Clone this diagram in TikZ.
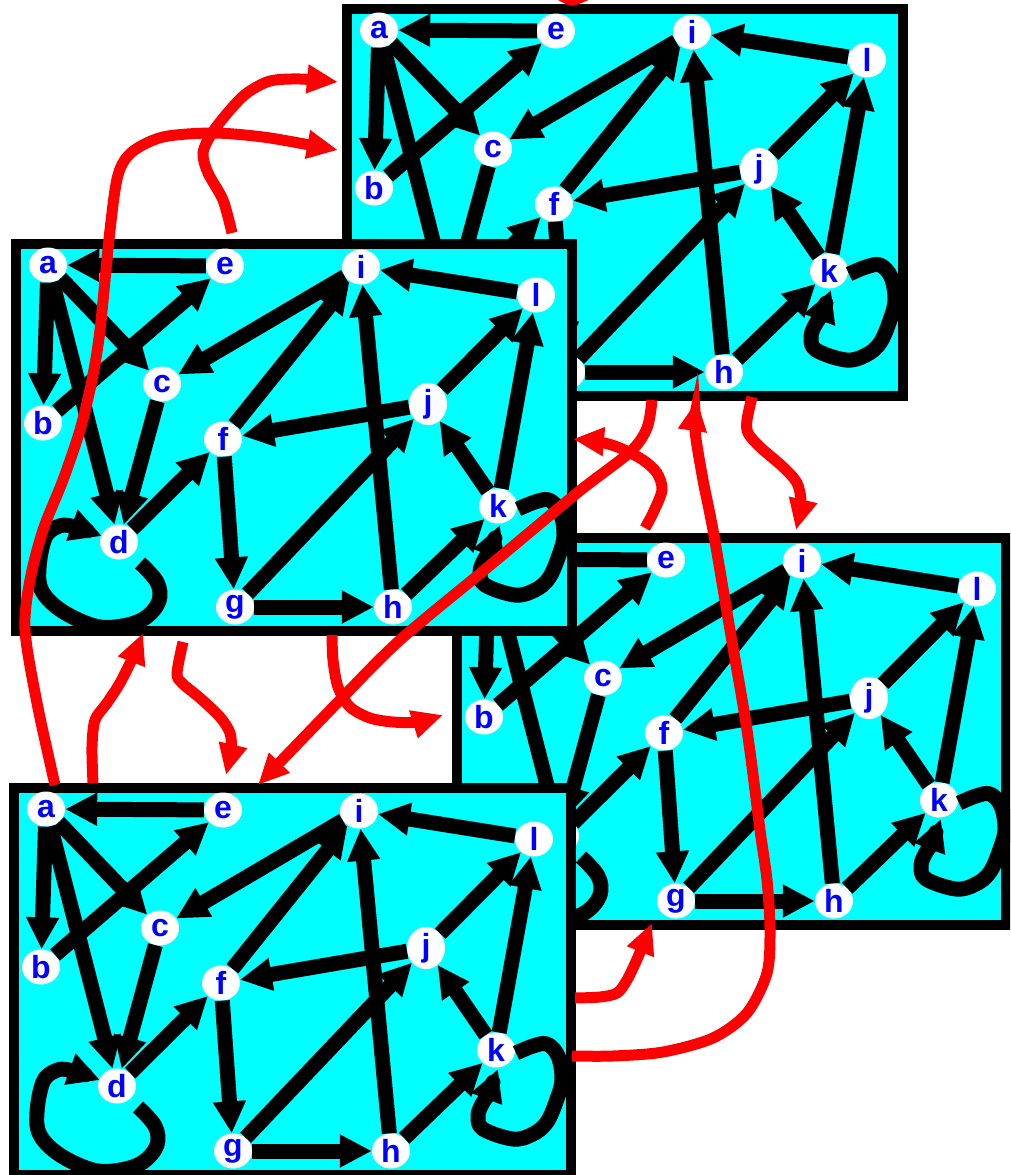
\documentclass[tikz,border=0pt]{standalone}
\usepackage{fontspec}
\setmainfont{Liberation Sans}
\usetikzlibrary{arrows.meta,shapes.geometric}
\definecolor{pcyan}{RGB}{0,255,255}
\definecolor{pblue}{RGB}{0,0,255}
\definecolor{pred}{RGB}{255,0,0}
\tikzset{
 vtx/.style={ellipse, fill=white, minimum width=38pt, minimum height=35pt, inner sep=0pt, text=pblue, font=\fontsize{32}{32}\selectfont\bfseries},
 gedge/.style={line width=15pt, -{Triangle[length=32pt,width=31pt]}},
 gloop/.style={line width=15pt, line join=round, -{Triangle[length=32pt,width=31pt]}},
 panelbox/.style={fill=pcyan, draw=black, line width=10pt},
 redarr/.style={draw=pred, line width=11pt, -{Triangle[length=31pt,width=27pt]}},
}
\newcommand{\graphpanel}[4]{%
\begin{scope}[shift={(#2,#3)}, name prefix=#1-]
 \path[panelbox] (0,0) rectangle (#4,387);
 \node[vtx] (a) at (32,21) {a};
 \node[vtx] (b) at (27,179) {b};
 \node[vtx] (c) at (146,140) {c};
 \node[vtx] (d) at (103,298) {d};
 \node[vtx] (e) at (209,22) {e};
 \node[vtx] (f) at (207,195) {f};
 \node[vtx] (g) at (219,363) {g};
 \node[vtx] (h) at (377,363) {h};
 \node[vtx] (i) at (345,23) {i};
 \node[vtx] (j) at (412,160) {j};
 \node[vtx] (k) at (482,262) {k};
 \node[vtx] (l) at (520,51) {l};
 \draw[gedge] (e) -- (a);
 \draw[gedge] (a) -- (b);
 \draw[gedge] (a) -- (c);
 \draw[gedge] (a) -- (d);
 \draw[gedge] (b) -- (e);
 \draw[gedge] (c) -- (d);
 \draw[gedge] (i) -- (c);
 \draw[gedge] (f) -- (i);
 \draw[gedge] (d) -- (f);
 \draw[gedge] (f) -- (g);
 \draw[gedge] (g) -- (h);
 \draw[gedge] (g) -- (j);
 \draw[gedge] (j) -- (f);
 \draw[gedge] (j) -- (l);
 \draw[gedge] (h) -- (i);
 \draw[gedge] (h) -- (k);
 \draw[gedge] (k) -- (j);
 \draw[gedge] (k) -- (l);
 \draw[gedge] (l) -- (i);
 \draw[gloop] plot[smooth, tension=0.6] coordinates {(124,319) (141,338) (143,357) (129,374) (106,382) (79,382) (46,367) (26,347) (23,324) (29,294) (41,283) (55,282) (86,292)};
 \draw[gloop] plot[smooth, tension=0.6] coordinates {(502,265) (519,258) (533,256) (544,268) (548,291) (543,311) (533,334) (519,346) (499,351) (469,341) (464,328) (468,316) (474,306) (484,281)};
\end{scope}}
\begin{document}
\begin{tikzpicture}[x=1pt,y=-1pt]
\useasboundingbox (0,0) rectangle (1010,1175);
\clip (0,0) rectangle (1010,1175);
\graphpanel{T}{347}{9}{556}
\graphpanel{R}{457}{538}{549}
\graphpanel{M}{16}{244}{556}
\graphpanel{B}{14}{788}{557}
% red connectors
\coordinate (r1s) at (55,785);  \coordinate (r1e) at (338,150);
\coordinate (r2s) at (232,233); \coordinate (r2e) at (338,82);
\coordinate (r3s) at (652,400); \coordinate (r3e) at (258,785);
\coordinate (r4s) at (645,528); \coordinate (r4e) at (573,439);
\coordinate (r5s) at (752,397); \coordinate (r5e) at (796,530);
\coordinate (r6s) at (183,642); \coordinate (r6e) at (226,775);
\coordinate (r7s) at (93,783);  \coordinate (r7e) at (143,633);
\coordinate (r8s) at (332,635); \coordinate (r8e) at (443,715);
\coordinate (r9s) at (575,998); \coordinate (r9e) at (652,923);
\coordinate (r10s) at (572,1056); \coordinate (r10e) at (697,400);
\coordinate (r11s) at (556,-8); \coordinate (r11e) at (592,-8);
\draw[redarr] plot[smooth] coordinates {(r1s) (37,703) (25,630) (30,580) (43,530) (63,480) (80,430) (92,380) (100,330) (110,230) (118,175) (132,152) (163,137) (213,133) (263,137) (310,145) (r1e)};
\draw[redarr] plot[smooth] coordinates {(r2s) (223,200) (208,173) (203,153) (212,133) (230,110) (247,93) (270,81) (300,79) (r2e)};
\draw[redarr] plot[smooth] coordinates {(r3s) (647,428) (630,452) (577,493) (488,567) (400,640) (340,700) (r3e)};
\draw[redarr] plot[smooth] coordinates {(r4s) (653,513) (662,490) (657,473) (643,460) (620,448) (600,442) (r4e)};
\draw[redarr] plot[smooth] coordinates {(r5s) (747,420) (748,433) (760,447) (783,467) (797,483) (801,503) (r5e)};
\draw[redarr] plot[smooth] coordinates {(r6s) (177,673) (182,683) (200,698) (220,717) (230,733) (231,750) (r6e)};
\draw[redarr] plot[smooth] coordinates {(r7s) (92,747) (95,720) (107,703) (120,683) (133,657) (r7e)};
\draw[redarr] plot[smooth] coordinates {(r8s) (333,660) (338,687) (350,707) (370,718) (393,722) (417,722) (r8e)};
\draw[redarr] plot[smooth] coordinates {(r9s) (600,997) (617,993) (627,980) (638,957) (r9e)};
\draw[redarr] plot[smooth] coordinates {(r10s) (613,1056) (663,1052) (713,1038) (747,1013) (767,973) (770,930) (767,880) (760,830) (747,730) (730,630) (713,530) (703,480) (695,430) (r10e)};
\draw[pred, line width=11pt] plot[smooth] coordinates {(r11s) (572,0) (r11e)};
\end{tikzpicture}
\end{document}
